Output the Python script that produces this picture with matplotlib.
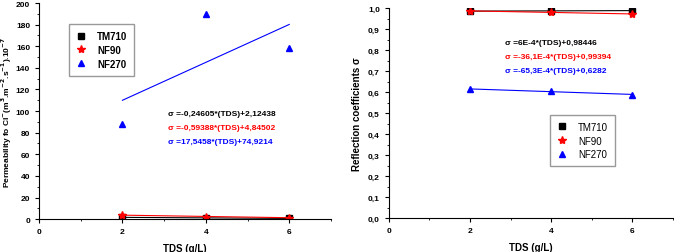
import matplotlib.pyplot as plt
from matplotlib.ticker import MultipleLocator, FuncFormatter

tds = [2, 4, 6]

# permeability (left panel)
perm_tm710 = [1.6, 1.0, 0.6]
perm_nf90 = [3.7, 2.4, 1.2]
perm_nf270 = [88, 190, 158]

# reflection coefficients (right panel)
refl_tm710 = [0.986, 0.986, 0.988]
refl_nf90 = [0.987, 0.981, 0.972]
refl_nf270 = [0.614, 0.606, 0.588]

# linear fits (slope, intercept) as written on the chart
perm_fits = [(-0.24605, 2.12438), (-0.59388, 4.84502), (17.5458, 74.9214)]
refl_fits = [(6e-4, 0.98446), (-36.1e-4, 0.99394), (-65.3e-4, 0.6282)]
perm_eqs = ['σ =-0,24605*(TDS)+2,12438', 'σ =-0,59388*(TDS)+4,84502', 'σ =17,5458*(TDS)+74,9214']
refl_eqs = ['σ =6E-4*(TDS)+0,98446', 'σ =-36,1E-4*(TDS)+0,99394', 'σ =-65,3E-4*(TDS)+0,6282']

names = ['TM710', 'NF90', 'NF270']
colors = ['black', 'red', 'blue']
markers = ['s', '*', '^']
msizes = [4, 6, 5]

plt.rcParams['font.family'] = ['Liberation Sans', 'DejaVu Sans']
plt.rcParams['font.weight'] = 'bold'
plt.rcParams['mathtext.default'] = 'bf'

fig = plt.figure(figsize=(6.74, 2.53), dpi=100)
ax1 = fig.add_axes([0.058, 0.130, 0.433, 0.854])
ax2 = fig.add_axes([0.577, 0.134, 0.421, 0.830])


def style(ax, ymax, ymaj, ymin, fmt):
    ax.set_xlim(0, 7)
    ax.set_ylim(0, ymax)
    ax.spines['top'].set_visible(False)
    ax.spines['right'].set_visible(False)
    ax.xaxis.set_major_locator(MultipleLocator(2))
    ax.xaxis.set_minor_locator(MultipleLocator(1))
    ax.yaxis.set_major_locator(MultipleLocator(ymaj))
    ax.yaxis.set_minor_locator(MultipleLocator(ymin))
    ax.yaxis.set_major_formatter(FuncFormatter(fmt))
    ax.tick_params(labelsize=6, length=3, width=0.8)
    ax.tick_params(which='minor', length=1.5, width=0.6)
    for lab in ax.get_xticklabels() + ax.get_yticklabels():
        lab.set_fontweight('bold')
    ax.set_xlabel('TDS (g/L)', fontsize=7, fontweight='bold', labelpad=6)


# left panel
for i in range(3):
    ax1.plot(tds, [perm_tm710, perm_nf90, perm_nf270][i], linestyle='none',
             marker=markers[i], color=colors[i], ms=msizes[i], label=names[i])
    a, b = perm_fits[i]
    ax1.plot([tds[0], tds[-1]], [a * tds[0] + b, a * tds[-1] + b],
             color=colors[i], lw=0.8)
style(ax1, 200, 20, 10, lambda v, p: f'{v:.0f}')
ax1.set_ylabel('Permeability fo Cl$^{-}$(m$^{3}$.m$^{-2}$.s$^{-1}$).10$^{-7}$',
               fontsize=6, fontweight='bold', labelpad=1)
leg1 = ax1.legend(loc='upper left', bbox_to_anchor=(0.085, 0.925),
                  fancybox=False, edgecolor='gray', prop={'weight': 'bold', 'size': 7},
                  handlelength=1.2, handletextpad=1.0, borderpad=0.7, labelspacing=0.4)
for i, eq in enumerate(perm_eqs):
    ax1.text(0.44, 0.48 - i * 0.063, eq, transform=ax1.transAxes, color=colors[i],
             fontsize=6, fontweight='bold')

# right panel
for i in range(3):
    ax2.plot(tds, [refl_tm710, refl_nf90, refl_nf270][i], linestyle='none',
             marker=markers[i], color=colors[i], ms=msizes[i], label=names[i])
    a, b = refl_fits[i]
    ax2.plot([tds[0], tds[-1]], [a * tds[0] + b, a * tds[-1] + b],
             color=colors[i], lw=0.8)
style(ax2, 1.0, 0.1, 0.05, lambda v, p: f'{v:.1f}'.replace('.', ','))
ax2.set_ylabel('Reflection coefficients σ', fontsize=7, fontweight='bold', labelpad=4)
leg2 = ax2.legend(loc='upper left', bbox_to_anchor=(0.55, 0.515), fancybox=False,
                  edgecolor='gray', prop={'weight': 'normal', 'size': 7},
                  handlelength=1.2, handletextpad=1.0, borderpad=0.7, labelspacing=0.4)
for i, eq in enumerate(refl_eqs):
    ax2.text(0.41, 0.83 - i * 0.068, eq, transform=ax2.transAxes, color=colors[i],
             fontsize=6, fontweight='bold')

fig.savefig('out.png', dpi=100)
